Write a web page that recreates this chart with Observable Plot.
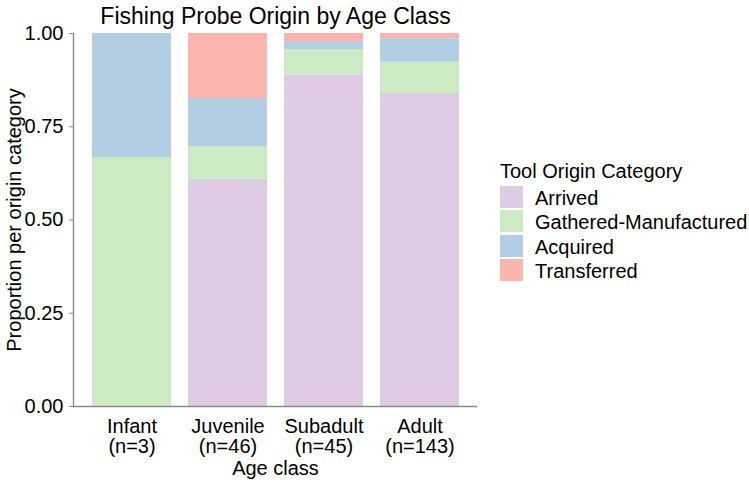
<!DOCTYPE html>
<html>
<head>
<meta charset="utf-8">
<script src="https://cdn.jsdelivr.net/npm/d3@7"></script>
<script src="https://cdn.jsdelivr.net/npm/@observablehq/plot@0.6"></script>
<style>
  body { margin: 0; background: #fff; }
  #wrap { position: relative; width: 749px; height: 484px; font-family: "Liberation Sans", Arial, sans-serif; color: #000; }
  #wrap svg { position: absolute; left: 0; top: 0; }
  .lg { position: absolute; font-size: 20px; line-height: 20px; white-space: nowrap; }
  .key { position: absolute; width: 23px; height: 22px; }
</style>
</head>
<body>
<div id="wrap"></div>
<script>
// ---- data ----
const ageClasses = ["Infant", "Juvenile", "Subadult", "Adult"];
const sampleSizes = [3, 46, 45, 143];
const categories = ["Arrived", "Gathered-Manufactured", "Acquired", "Transferred"];
const arrived     = [0.000, 0.609, 0.889, 0.839];
const gathered    = [0.667, 0.087, 0.067, 0.084];
const acquired    = [0.333, 0.130, 0.022, 0.063];
const transferred = [0.000, 0.174, 0.022, 0.014];
const yTicks = [0, 0.25, 0.5, 0.75, 1];
const colors = ["#DECBE4", "#CCEBC5", "#B3CDE3", "#FBB4AE"];
const titleText = "Fishing Probe Origin by Age Class";
const xTitle = "Age class";
const yTitle = "Proportion per origin category";
const legendTitle = "Tool Origin Category";

const seriesByCat = [arrived, gathered, acquired, transferred];
const data = [];
categories.forEach((c, j) => ageClasses.forEach((a, i) => data.push({age: a, cat: c, value: seriesByCat[j][i]})));

const axisGray = "#8a8a8a";
const font = "'Liberation Sans', Arial, sans-serif";

const chart = Plot.plot({
  width: 749,
  height: 484,
  marginTop: 33,
  marginBottom: 78,
  marginLeft: 73,
  marginRight: 272,
  style: {fontFamily: font, fontSize: "20px", color: "#000", background: "transparent"},
  x: {domain: ageClasses, paddingInner: 0.18, paddingOuter: 0.18},
  y: {domain: [0, 1]},
  color: {domain: categories, range: colors},
  marks: [
    Plot.barY(data, {x: "age", y: "value", fill: "cat", order: categories}),
    Plot.axisY({ticks: yTicks, tickFormat: d => d.toFixed(2), tickSize: 4, tickPadding: 6,
                stroke: axisGray, fill: "#000", fontSize: 20, label: null}),
    Plot.axisX({tickSize: 0, tickPadding: 12, fill: "#000", fontSize: 20, label: null,
                tickFormat: d => `${d}\n(n=${sampleSizes[ageClasses.indexOf(d)]})`}),
    Plot.ruleY([0], {stroke: axisGray, strokeWidth: 1.4}),
    Plot.frame({anchor: "left", stroke: axisGray, strokeWidth: 1.4}),
    Plot.text([titleText], {frameAnchor: "top", lineAnchor: "top", dy: -26, fontSize: 23, fill: "#000"}),
    Plot.text([xTitle], {frameAnchor: "bottom", lineAnchor: "top", dy: 54, fontSize: 20, fill: "#000"}),
    Plot.text([yTitle], {frameAnchor: "left", textAnchor: "middle", lineAnchor: "middle", rotate: -90, dx: -59, fontSize: 20, fill: "#000"})
  ]
});

const wrap = document.getElementById("wrap");
wrap.appendChild(chart);

// legend
const lt = document.createElement("div");
lt.className = "lg";
lt.style.left = "500px";
lt.style.top = "161px";
lt.textContent = legendTitle;
wrap.appendChild(lt);
const color = chart.scale("color");
categories.forEach((c, k) => {
  const top = 186 + 24.3 * k;
  const key = document.createElement("div");
  key.className = "key";
  key.style.left = "500px";
  key.style.top = top + "px";
  key.style.background = color.apply(c);
  wrap.appendChild(key);
  const t = document.createElement("div");
  t.className = "lg";
  t.style.left = "535px";
  t.style.top = (top + 2) + "px";
  t.textContent = c;
  wrap.appendChild(t);
});
</script>
</body>
</html>
